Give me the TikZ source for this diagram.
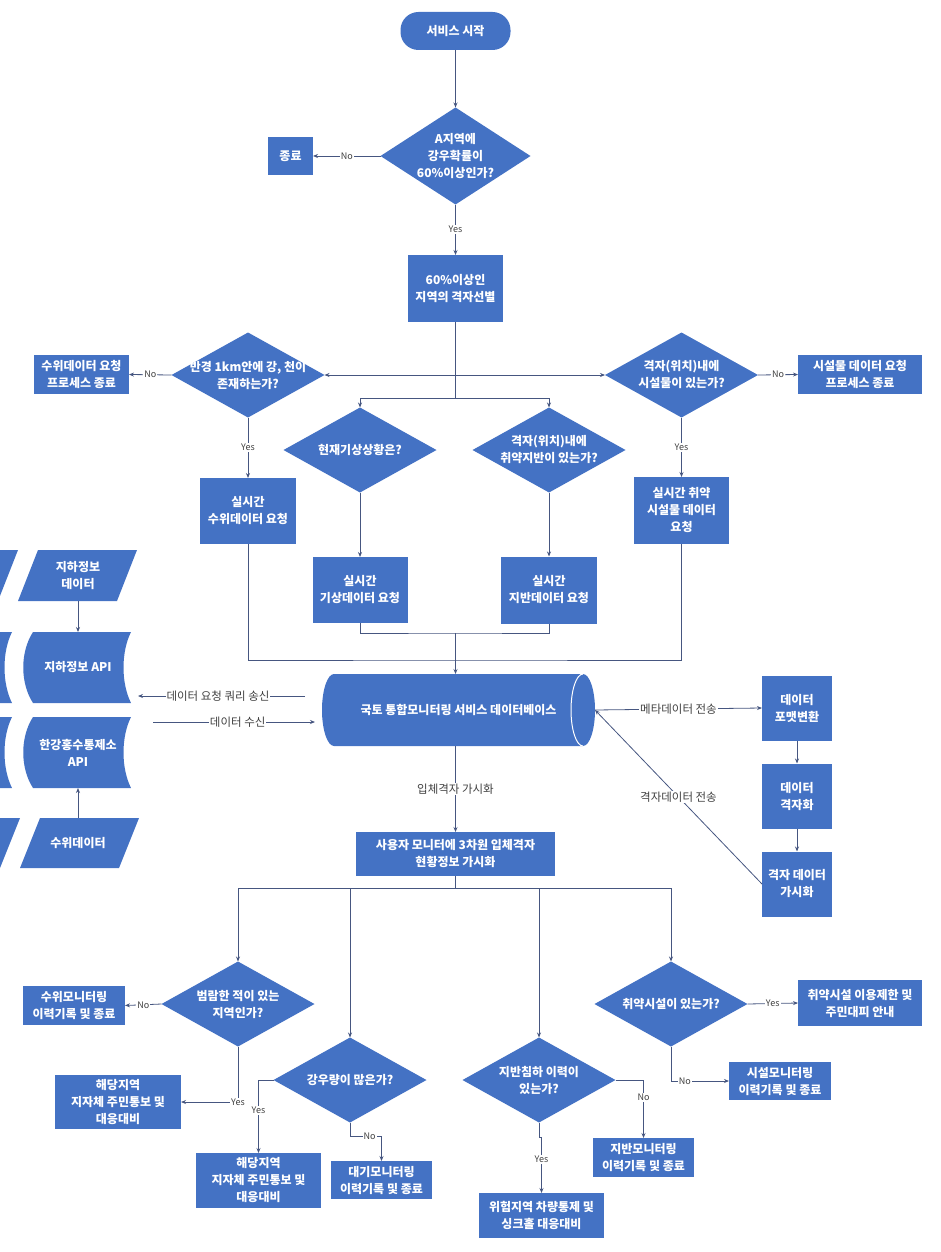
\documentclass[tikz,border=0pt]{standalone}
\usepackage{fontspec}
\setmainfont{Noto Sans CJK KR}
\usetikzlibrary{arrows.meta}
\usetikzlibrary{shapes.geometric}
\usetikzlibrary{calc}

\definecolor{boxblue}{RGB}{68,114,196}
\definecolor{linecol}{RGB}{70,86,128}
\definecolor{lblgray}{RGB}{64,64,64}

\tikzset{
  box/.style={rectangle, fill=boxblue, text=white, font=\bfseries\fontsize{12}{17}\selectfont, align=center, inner sep=1pt, outer sep=0pt},
  term/.style={box, rounded corners=18pt},
  decision/.style={diamond, fill=boxblue, inner sep=0pt, outer sep=0pt, minimum width=153, minimum height=85},
  dtext/.style={text=white, font=\bfseries\fontsize{12}{17}\selectfont, align=center},
  shapetext/.style={rectangle, text=white, font=\bfseries\fontsize{12}{17}\selectfont, align=center, inner sep=0pt, outer sep=0pt},
  line/.style={draw=linecol, line width=0.8pt},
  flow/.style={line, -{Stealth[length=5pt,width=4pt]}},
  yn/.style={fill=white, text=lblgray, font=\fontsize{9}{10}\selectfont, inner sep=1pt},
  lbl/.style={fill=white, text=lblgray, font=\fontsize{11.5}{13}\selectfont, inner sep=1pt},
}

\begin{document}
\begin{tikzpicture}[x=1pt, y=-1pt]
  \useasboundingbox (0,0) rectangle (940,1252);

%start
  \node[term, minimum width=110, minimum height=38] (start) at (455.5,31) {서비스 시작};
  \node[decision, minimum width=150, minimum height=97, label={[dtext]center:{A지역에\\강우확률이\\60\%이상인가?}}] (q1) at (455.5,156) {};
  \node[box, minimum width=45, minimum height=38] (stop) at (290.5,156) {종료};
  \node[box, minimum width=95, minimum height=67] (sel) at (455.5,288.5) {60\%이상인\\지역의 격자선별};
  \draw[flow] (start) -- (q1);
  \draw[flow] (q1.west) -- node[yn] {No} (stop.east);
  \draw[flow] (q1.south) -- node[yn] {Yes} (sel.north);

%questions
  \foreach \x/\y/\name/\txt in {248/375/q2/{반경 1km안에 강, 천이\\존재하는가?}, 681.5/375/q3/{격자(위치)내에\\시설물이 있는가?}, 360/450/q4/{현재기상상황은?}, 549/450/q5/{격자(위치)내에\\취약지반이 있는가?}} {
    \node[decision, label={[dtext]center:\txt}] (\name) at (\x,\y) {};
  }

  \foreach \x/\y/\w/\h/\name/\txt in {81.5/374.5/95/39/n1/{수위데이터 요청\\프로세스 종료}, 860/374.5/124/39/n2/{시설물 데이터 요청\\프로세스 종료}, 248/511/96/66/r1/{실시간\\수위데이터 요청}, 360/590/95/66/r2/{실시간\\기상데이터 요청}, 549/590/96/67/r3/{실시간\\지반데이터 요청}, 681.5/510.5/95/67/r4/{실시간 취약\\시설물 데이터\\요청}} {
    \node[box, minimum width=\w, minimum height=\h] (\name) at (\x,\y) {\txt};
  }

  \coordinate (j1) at (455.5,375);
  \coordinate (j2) at (455.5,398);
  \draw[line] (sel.south) -- (j2);
  \draw[flow] (j1) -- (q2.east);
  \draw[flow] (j1) -- (q3.west);
  \draw[flow] (j2) -| (q4.north);
  \draw[flow] (j2) -| (q5.north);
  \draw[flow] (q2.west) -- node[yn] {No} (n1.east);
  \draw[flow] (q3.east) -- node[yn] {No} (n2.west);
  \draw[flow] (q2.south) -- node[yn] {Yes} (r1.north);
  \draw[flow] (q3.south) -- node[yn] {Yes} (r4.north);
  \draw[flow] (q4.south) -- (r2.north);
  \draw[flow] (q5.south) -- (r3.north);

%DB
  \fill[boxblue] (334,674) -- (583,674) arc[start angle=90, end angle=-90, x radius=12pt, y radius=36pt]
    -- (334,746) arc[start angle=270, end angle=90, x radius=12pt, y radius=36pt] -- cycle;
  \draw[white, line width=1pt] (583,674) arc[start angle=90, end angle=270, x radius=12pt, y radius=36pt];
  \node[shapetext, minimum width=273, minimum height=72] (db) at (458.5,710) {국토 통합모니터링 서비스 데이터베이스};

  \coordinate (j3) at (455.5,660);
  \coordinate (j4) at (455.5,633);
  \draw[line] (r1.south) |- (j3) -| (r4.south);
  \draw[line] (r2.south) |- (j4) -| (r3.south);
  \draw[flow] (j4) -- (j4 |- db.north);

%sources
  \foreach \dx in {0,-119} {
    \fill[boxblue] (38+\dx,550) -- (137+\dx,550) -- (117+\dx,601) -- (18+\dx,601) -- cycle;
    \fill[boxblue] (40+\dx,818) -- (139+\dx,818) -- (119+\dx,868) -- (20+\dx,868) -- cycle;
    \foreach \y in {632,717} {
      \fill[boxblue] (33+\dx,\y) -- (131+\dx,\y) .. controls (121+\dx,\y+20) and (121+\dx,\y+51) .. (131+\dx,\y+71)
        -- (33+\dx,\y+71) .. controls (20+\dx,\y+51) and (20+\dx,\y+20) .. (33+\dx,\y) -- cycle;
    }
  }
  \node[shapetext, minimum width=100, minimum height=51] (src1) at (78,575.5) {지하정보\\데이터};
  \node[shapetext, minimum width=106, minimum height=71] (api1) at (78,667.5) {지하정보 API};
  \node[shapetext, minimum width=106, minimum height=71] (api2) at (78,752.5) {한강홍수통제소\\API};
  \node[shapetext, minimum width=100, minimum height=50] (src2) at (78,843) {수위데이터};
  \draw[flow] (src1) -- (api1);
  \draw[flow] (src2) -- (api2);

  \coordinate (qry) at ($(db.west)+(-17,-14)$);
  \coordinate (rcv) at ($(db.west)+(-7,12)$);
  \draw[flow, shorten >=7pt] (qry) -- node[lbl] {데이터 요청 쿼리 송신} (qry -| api1.east);
  \draw[flow, shorten <=22pt] (rcv -| api2.east) -- node[lbl, pos=0.58] {데이터 수신} (rcv);

%grid
  \foreach \y/\txt/\name in {708/{데이터\\포맷변환}/fmt, 796/{데이터\\격자화}/grd, 884/{격자 데이터\\가시화}/gvis} {
    \node[box, minimum width=70, minimum height=65] (\name) at (797,\y) {\txt};
  }
  \draw[flow] (db.east) -- node[lbl] {메타데이터 전송} (fmt.west);
  \draw[flow] (fmt) -- (grd);
  \draw[flow] (grd) -- (gvis);
  \draw[flow] (gvis.west) -- node[lbl] {격자데이터 전송} (db.east);

%view
  \node[box, minimum width=199, minimum height=44] (show) at (455.5,854) {사용자 모니터에 3차원 입체격자\\현황정보 가시화};
  \draw[flow] (db.south -| j4) -- node[lbl] {입체격자 가시화} (show.north);
  \coordinate (j5) at (455.5,888);
  \draw[line] (show.south) -- (j5);

  \foreach \x/\y/\name/\txt in {238/1004/b1/{범람한 적이 있는\\지역인가?}, 350/1080/b2/{강우량이 많은가?}, 539/1080/b3/{지반침하 이력이\\있는가?}, 671/1004/b4/{취약시설이 있는가?}} {
    \node[decision, label={[dtext]center:\txt}] (\name) at (\x,\y) {};
    \draw[flow] (j5) -| (\name.north);
  }

  \foreach \x/\y/\w/\h/\name/\txt in {74/1005.5/102/39/e1/{수위모니터링\\이력기록 및 종료}, 118/1102/126/54/e2/{해당지역\\지자체 주민통보 및\\대응대비}, 258.5/1180.5/125/55/e3/{해당지역\\지자체 주민통보 및\\대응대비}, 381.5/1180/101/38/e4/{대기모니터링\\이력기록 및 종료}, 643.5/1157.5/101/39/e5/{지반모니터링\\이력기록 및 종료}, 541.5/1215.5/125/45/e6/{위험지역 차량통제 및\\싱크홀 대응대비}, 860/1003/124/46/e7/{취약시설 이용제한 및\\주민대피 안내}, 780/1081/102/38/e8/{시설모니터링\\이력기록 및 종료}} {
    \node[box, minimum width=\w, minimum height=\h] (\name) at (\x,\y) {\txt};
  }

  \draw[flow] (b1.west) -- node[yn] {No} (e1.east);
  \draw[flow] (b1.south) |- node[yn] {Yes} (e2.east);
  \draw[flow] (b2.west) -| node[yn, pos=0.71] {Yes} (e3.north);
  \draw[flow] (b2.south) -- ++(0,14) -| node[yn, pos=0.31] {No} (e4.north);
  \draw[flow] (b3.east) -| node[yn, pos=0.65] {No} (e5.north);
  \draw[flow] (b3.south) -- ++(0,15) -| node[yn, pos=0.7] {Yes} (e6.north);
  \draw[flow] (b4.east) -- node[yn] {Yes} (e7.west);
  \draw[flow] (b4.south) |- node[yn, pos=0.62] {No} (e8.west);

\end{tikzpicture}
\end{document}
